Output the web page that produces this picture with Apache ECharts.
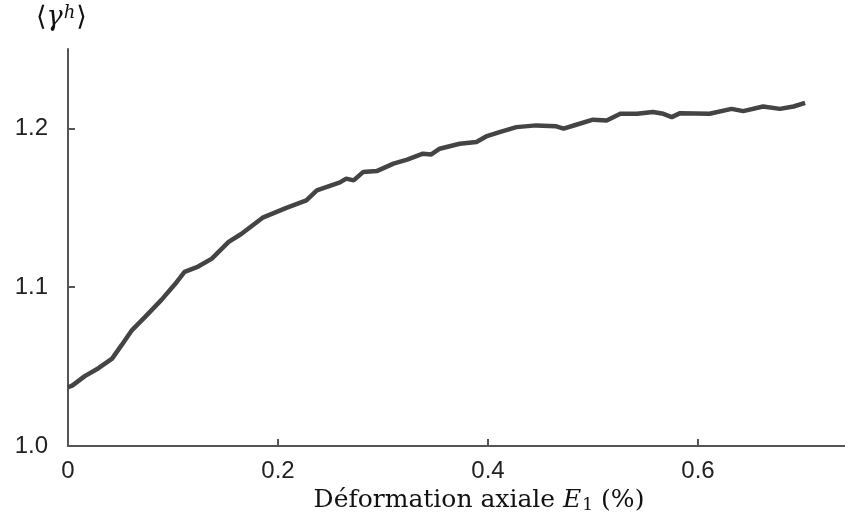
<!DOCTYPE html>
<html>
<head>
<meta charset="utf-8">
<script src="https://cdn.jsdelivr.net/npm/echarts@6/dist/echarts.min.js"></script>
<style>html,body{margin:0;padding:0;background:#fff}#c{width:845px;height:523px}</style>
</head>
<body>
<div id="c"></div>
<script>
const strainX = [0.000, 0.004, 0.016, 0.029, 0.042, 0.051, 0.061, 0.073, 0.089, 0.102, 0.111, 0.124, 0.137, 0.153, 0.165, 0.186, 0.208, 0.227, 0.237, 0.259, 0.265, 0.272, 0.281, 0.294, 0.310, 0.323, 0.338, 0.346, 0.354, 0.373, 0.389, 0.399, 0.411, 0.427, 0.446, 0.465, 0.472, 0.484, 0.500, 0.513, 0.526, 0.542, 0.557, 0.567, 0.575, 0.583, 0.611, 0.632, 0.643, 0.662, 0.678, 0.691, 0.702];
const gammaY = [1.037, 1.038, 1.044, 1.049, 1.055, 1.0635, 1.073, 1.081, 1.092, 1.102, 1.1096, 1.113, 1.118, 1.1285, 1.1335, 1.144, 1.150, 1.1547, 1.161, 1.166, 1.1684, 1.1673, 1.1725, 1.1731, 1.1778, 1.1803, 1.1841, 1.1836, 1.1872, 1.1903, 1.1914, 1.1952, 1.1977, 1.2008, 1.2019, 1.2013, 1.1998, 1.2023, 1.2055, 1.205, 1.2092, 1.2092, 1.2103, 1.2092, 1.2071, 1.2096, 1.2092, 1.2123, 1.2109, 1.2138, 1.2123, 1.2138, 1.2161];
const xTicks = [0, 0.2, 0.4, 0.6];
const yTicks = [1.0, 1.1, 1.2];

const chart = echarts.init(document.getElementById('c'));
chart.setOption({
  animation: false,
  backgroundColor: '#fff',
  grid: { left: 68, right: 0, top: 49, bottom: 77 },
  xAxis: {
    type: 'value', min: 0, max: 0.74, interval: 0.2,
    axisLine: { lineStyle: { color: '#555', width: 2 } },
    axisTick: { inside: true, length: 7, customValues: xTicks, lineStyle: { color: '#555', width: 2 } },
    splitLine: { show: false },
    axisLabel: { margin: 13, fontFamily: 'Liberation Sans', fontSize: 24, color: '#222',
      customValues: xTicks,
      formatter: v => v === 0 ? '0' : v.toFixed(1) }
  },
  yAxis: {
    type: 'value', min: 1.0, max: 1.25, interval: 0.1,
    axisLine: { show: true, lineStyle: { color: '#555', width: 2 } },
    axisTick: { show: true, inside: true, length: 7, customValues: yTicks, lineStyle: { color: '#555', width: 2 } },
    splitLine: { show: false },
    axisLabel: { margin: 20, fontFamily: 'Liberation Sans', fontSize: 24, color: '#222',
      customValues: yTicks,
      formatter: v => v.toFixed(1) }
  },
  series: [{
    type: 'line', showSymbol: false, smooth: false,
    data: strainX.map((x, i) => [x, gammaY[i]]),
    lineStyle: { color: '#444', width: 4.5 }
  }],
  graphic: [
    { type: 'text', left: 36, top: 4, style: {
      text: '{a|⟨}{g|γ}{s|h}{a|⟩}',
      rich: {
        a: { fontFamily: 'DejaVu Serif', fontSize: 27, fill: '#111' },
        g: { fontFamily: 'DejaVu Serif', fontStyle: 'italic', fontSize: 27, fill: '#111' },
        s: { fontFamily: 'DejaVu Serif', fontStyle: 'italic', fontSize: 18, fill: '#111', verticalAlign: 'top', padding: [0, 1, 10, 1] }
      } } },
    { type: 'text', x: 479, y: 500, style: {
      text: '{t|Déformation axiale }{e|E}{b|1}{t| (%)}',
      align: 'center', verticalAlign: 'middle',
      rich: {
        t: { fontFamily: 'DejaVu Serif', fontSize: 25, fill: '#111' },
        e: { fontFamily: 'DejaVu Serif', fontStyle: 'italic', fontSize: 25, fill: '#111' },
        b: { fontFamily: 'DejaVu Serif', fontSize: 17, fill: '#111', padding: [12, 0, 0, 1] }
      } } }
  ]
});
</script>
</body>
</html>
